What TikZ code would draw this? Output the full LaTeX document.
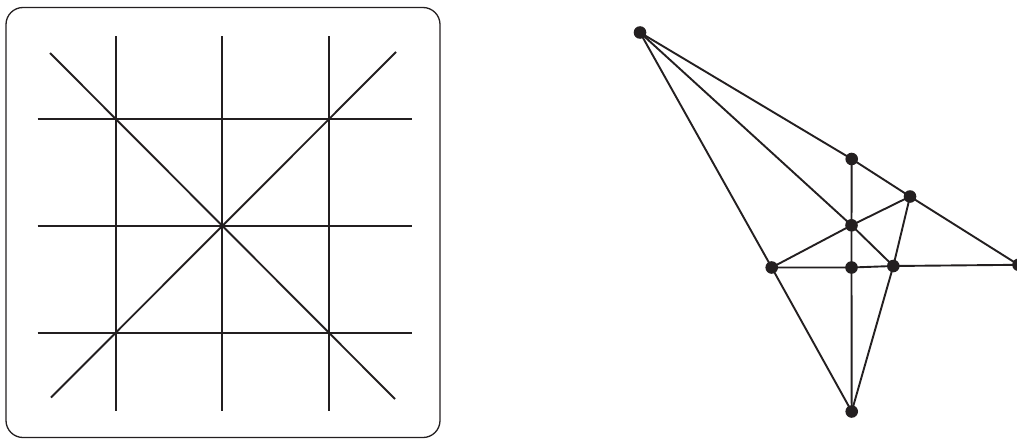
\documentclass[tikz,border=0pt]{standalone}
\definecolor{ink}{RGB}{35,31,32}
\begin{document}
\begin{tikzpicture}[x=1pt,y=-1pt,
  line/.style={draw=ink,line width=1.9pt},
  dot/.style={circle,fill=ink,inner sep=0pt,minimum size=12.6pt}]
\useasboundingbox (0,0) rectangle (1017,439);
\clip (0,0) rectangle (1017,439);
% left panel
\draw[line,line width=1.3pt,rounded corners=17pt] (6,7.5) rectangle (440,437.5);
\foreach \x in {115.7,222.3,328.7}{\draw[line] (\x,36) -- (\x,410.7);}
\foreach \y in {119,226,333}{\draw[line] (37.7,\y) -- (412.3,\y);}
\coordinate (d1a) at (50,53);
\coordinate (d1b) at (395,399);
\coordinate (d2a) at (51,397.5);
\coordinate (d2b) at (396,52);
\draw[line] (d1a) -- (d1b);
\draw[line] (d2a) -- (d2b);
% right graph
\coordinate (A) at (640,32.5);
\coordinate (B) at (851.7,159);
\coordinate (C) at (910,196.5);
\coordinate (D) at (851.5,225.3);
\coordinate (E) at (771.7,267.5);
\coordinate (F) at (851.5,267.5);
\coordinate (G) at (893.3,266);
\coordinate (H) at (1018.5,264.8);
\coordinate (I) at (851.7,411.5);
\draw[line] (A) -- (B) -- (C) -- (H);
\draw[line] (A) -- (D) -- (G);
\draw[line] (A) -- (E) -- (I);
\draw[line] (E) -- (D) -- (C) -- (G) -- (I);
\draw[line] (E) -- (F) -- (G) -- (H);
\draw[line] (B) -- (D) -- (F) -- (I);
\foreach \n in {A,B,C,D,E,F,G,H,I}{\node[dot] (n\n) at (\n) {};}
\end{tikzpicture}
\end{document}
